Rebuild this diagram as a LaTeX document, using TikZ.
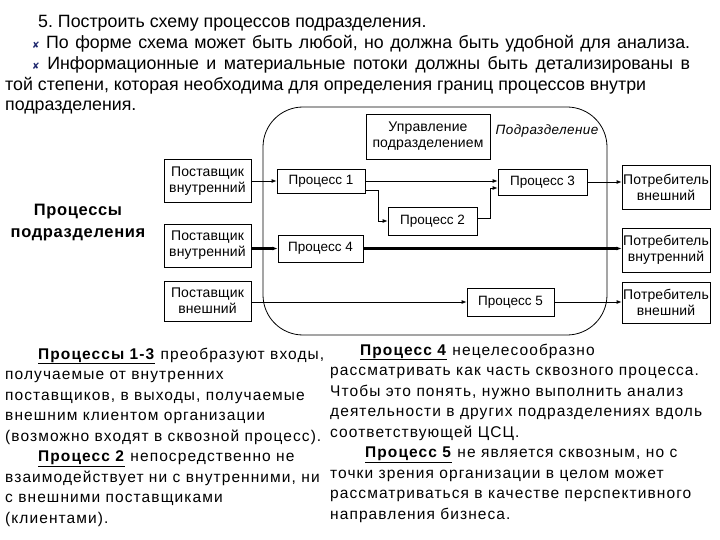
\documentclass[tikz,border=0pt]{standalone}
\usepackage{fontspec}
\setmainfont{Liberation Sans}
\newfontfamily\symfont{DejaVu Sans}
\usetikzlibrary{arrows.meta}
\definecolor{bulletblue}{RGB}{30,40,110}

\begin{document}
\frenchspacing
\begin{tikzpicture}[x=1pt,y=-1pt,
	every node/.style={font=\fontsize{13.5}{15}\selectfont},
	box/.style={draw,line width=0.8pt,align=center,inner sep=0pt},
	party/.style={box,font=\fontsize{14}{16}\selectfont\addfontfeature{LetterSpace=1}},
	textblock/.style={align=left,inner sep=0pt,anchor=base west,font=\fontsize{15.5}{20.5}\selectfont\addfontfeature{LetterSpace=7}},
	flow/.style={-{Latex[length=5pt,width=4pt]},line width=0.8pt},
	bigflow/.style={flow,line width=2.2pt}]
	\newcommand\xmark{{\symfont\fontsize{9}{9}\selectfont\color{bulletblue}✘}}
	\useasboundingbox (0,0) rectangle (720,540);
	% text above the scheme
	\node[textblock,font=\fontsize{17.8}{20.9}\selectfont] (intro) at (5,111) {\hspace*{33pt}5. Построить схему процессов подразделения.\\
		\hspace*{27pt}\makebox[658pt][s]{\xmark\ По форме схема может быть любой, но должна быть удобной для анализа.}\\
		\hspace*{27pt}\makebox[658pt][s]{\xmark\ Информационные и материальные потоки должны быть детализированы в}\\
		той степени, которая необходима для определения границ процессов внутри\\
		подразделения.};
	% the department
	\draw[line width=0.8pt, rounded corners=40pt] (263,107) rectangle (607,335);
	\node[font=\fontsize{13.5}{15}\selectfont\itshape\addfontfeature{LetterSpace=3}] (dept) at (547,131) {Подразделение};
	\node[party,minimum width=124pt,minimum height=45pt] (mgmt) at (428,136.5) {Управление\\подразделением};
	\node[align=center,anchor=base,font=\fontsize{16.5}{22}\selectfont\bfseries\addfontfeature{LetterSpace=4}] (title) at (78,237) {Процессы\\подразделения};
	% suppliers
	\node[party,minimum width=87pt,minimum height=43pt] (sup1) at (207.5,181) {Поставщик\\внутренний};
	\node[party,minimum width=87pt,minimum height=43pt] (sup2) at (207.5,245.5) {Поставщик\\внутренний};
	\node[party,minimum width=87pt,minimum height=40pt] (sup3) at (207.5,301) {Поставщик\\внешний};
	% processes
	\node[box,minimum width=88pt,minimum height=24pt] (proc1) at (321,181) {Процесс 1};
	\node[box,minimum width=89pt,minimum height=28pt] (proc2) at (432.5,221) {Процесс 2};
	\node[box,minimum width=89pt,minimum height=26pt] (proc3) at (542.5,182) {Процесс 3};
	\node[box,minimum width=85pt,minimum height=27pt] (proc4) at (320.5,248.5) {Процесс 4};
	\node[box,minimum width=87pt,minimum height=28pt] (proc5) at (510.5,302) {Процесс 5};
	% consumers
	\node[party,minimum width=88pt,minimum height=44pt] (cons1) at (666,187) {Потребитель\\внешний};
	\node[party,minimum width=88pt,minimum height=44pt] (cons2) at (666,250) {Потребитель\\внутренний};
	\node[party,minimum width=88pt,minimum height=41pt] (cons3) at (666,302.5) {Потребитель\\внешний};
	% flows
	\draw[flow] (sup1.east) -- (proc1.west);
	\draw[flow] (proc1.east) -- (proc1.east -| proc3.west);
	\draw[flow] ([yshift=3pt]proc1.south east) -- ++(13,0) |- (proc2.west);
	\draw[flow] ([yshift=3pt]proc2.east) -- ++(13,0) |- ([yshift=-6pt]proc3.west);
	\draw[flow] (proc3.east) -- (proc3.east -| cons1.west);
	\draw[bigflow] (sup2.east |- proc4) -- (proc4.west);
	\draw[bigflow] (proc4.east) -- (proc4.east -| cons2.west);
	\draw[flow] (sup3.east |- proc5) -- (proc5.west);
	\draw[flow] (proc5.east) -- (proc5.east -| cons3.west);
	% text below the scheme
	\node[textblock] (left) at (5,523) {\hspace*{33pt}\underline{\textbf{Процессы 1-3}} преобразуют входы,\\
		получаемые от внутренних\\
		поставщиков, в выходы, получаемые\\
		внешним клиентом организации\\
		(возможно входят в сквозной процесс).\\
		\hspace*{33pt}\underline{\textbf{Процесс 2}} непосредственно не\\
		взаимодействует ни с внутренними, ни\\
		с внешними поставщиками\\
		(клиентами).};
	\node[textblock] (right) at (330,519) {\hspace*{30pt}\underline{\textbf{Процесс 4}} нецелесообразно\\
		рассматривать как часть сквозного процесса.\\
		Чтобы это понять, нужно выполнить анализ\\
		деятельности в других подразделениях вдоль\\
		соответствующей ЦСЦ.\\
		\hspace*{35pt}\underline{\textbf{Процесс 5}} не является сквозным, но с\\
		точки зрения организации в целом может\\
		рассматриваться в качестве перспективного\\
		направления бизнеса.};
\end{tikzpicture}
\end{document}
